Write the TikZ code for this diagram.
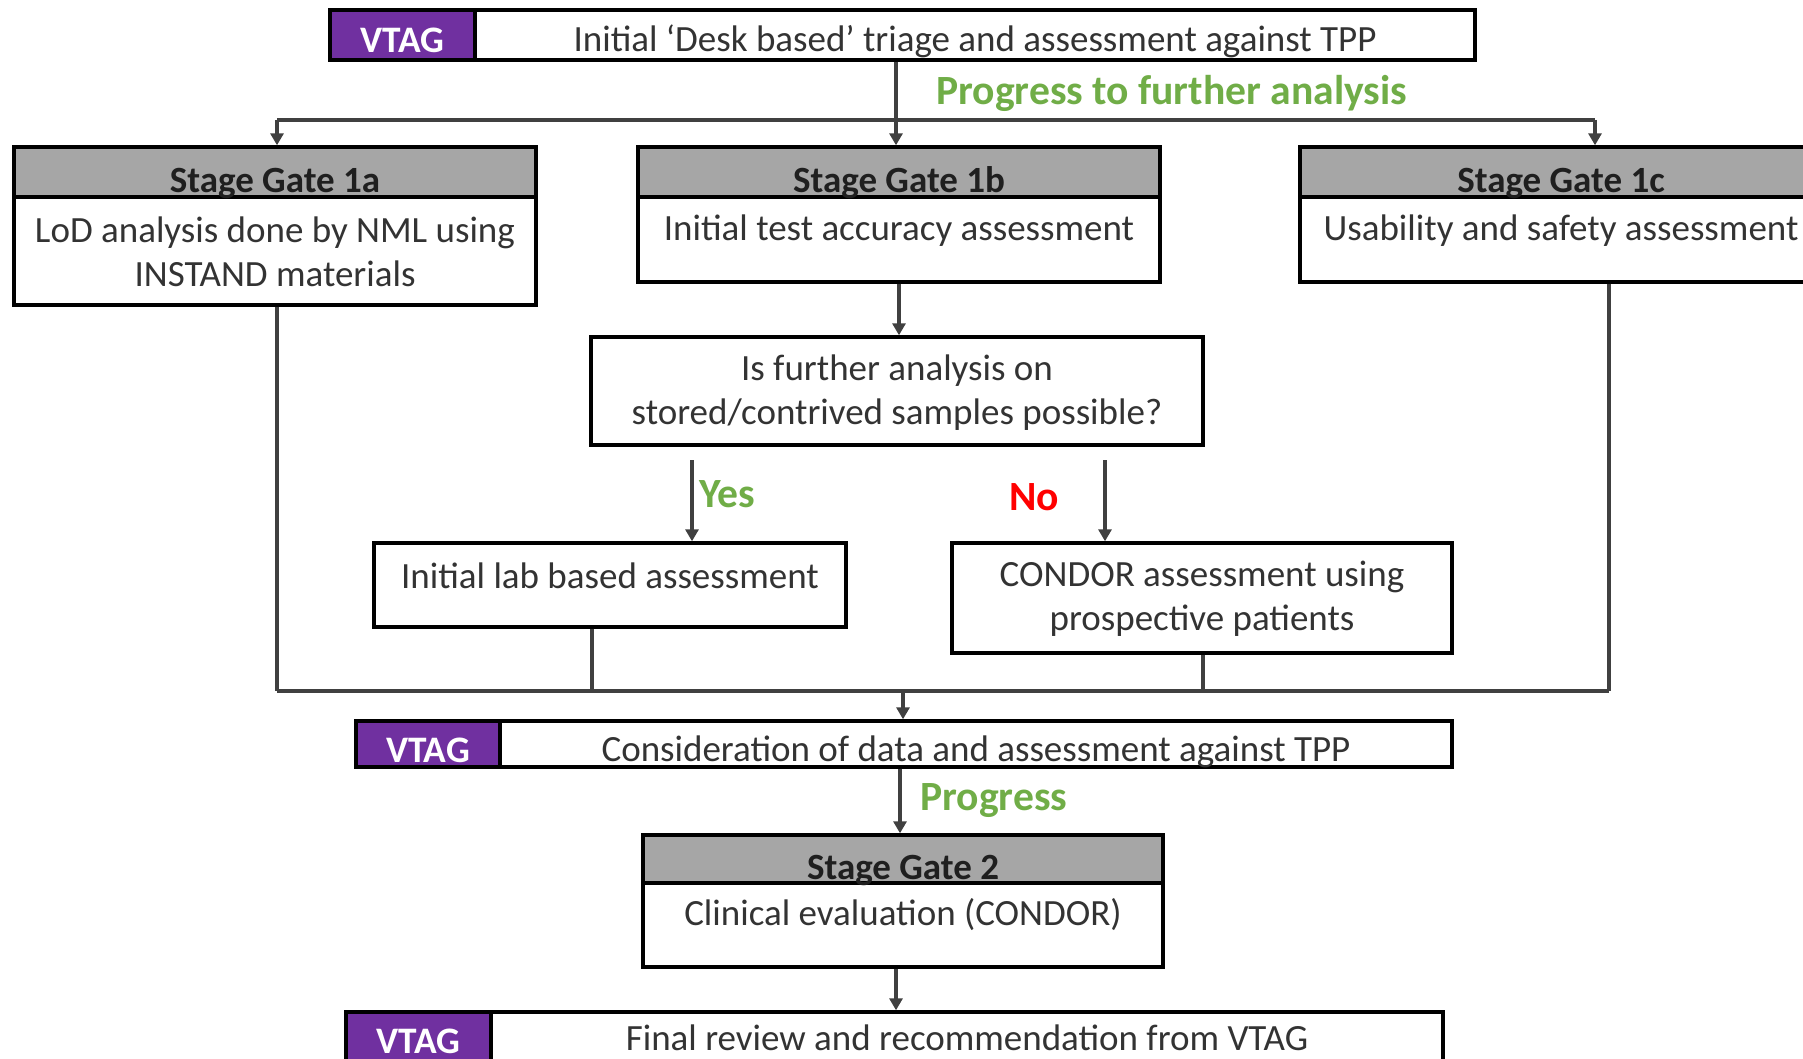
\documentclass[tikz,border=0pt]{standalone}
\usepackage{fontspec}
\setmainfont{Carlito}
\usetikzlibrary{arrows.meta}
\definecolor{vpurple}{HTML}{7030A0}
\definecolor{hgray}{HTML}{A6A6A6}
\definecolor{lgray}{HTML}{404040}
\definecolor{tgray}{HTML}{333333}
\definecolor{pgreen}{HTML}{70AD47}
\definecolor{nred}{HTML}{FF0000}
\begin{document}
\begin{tikzpicture}[x=0.5pt,y=-0.5pt,
  box/.style={draw=black, line width=1.7pt, fill=white, inner sep=0pt},
  hdr/.style={box, fill=hgray},
  vtag/.style={box, fill=vpurple},
  txt/.style={text=tgray, font=\fontsize{18.5}{22}\selectfont, align=center, inner sep=0pt},
  htxt/.style={text=black!88, font=\fontsize{18.5}{22}\selectfont\bfseries, inner sep=0pt},
  vtxt/.style={text=white, font=\fontsize{18.7}{22}\selectfont\bfseries, inner sep=0pt},
  lbl/.style={font=\fontsize{20.8}{24}\selectfont\bfseries, inner sep=0pt},
  conn/.style={draw=lgray, line width=1.8pt},
  arr/.style={conn, -{Triangle[width=6.5pt,length=6pt]}},
]
\useasboundingbox (0,0) rectangle (1803,1059);
\fill[white] (0,0) rectangle (1803,1059);

\coordinate (busL) at (277,120);
\coordinate (busR) at (1595,120);
\coordinate (bus2L) at (277,691);
\coordinate (bus2R) at (1609,691);

% ---------- VTAG 1 ----------
\node[vtag, minimum width=72.5pt, minimum height=25pt] (v1) at (402.5,35) {};
\node[box, minimum width=500pt, minimum height=25pt] (w1) at (975,35) {};
\node[vtxt] (v1t) at (402.5,40) {VTAG};
\node[txt, anchor=base] (w1t) at (975,52) {Initial ‘Desk based’ triage and assessment against TPP};

% ---------- Stage gate 1a ----------
\node[hdr, minimum width=261pt, minimum height=25pt] (h1a) at (275,172) {};
\node[box, minimum width=261pt, minimum height=54pt] (b1a) at (275,251) {};
\node[htxt, anchor=base] (h1at) at (275,193) {Stage Gate 1a};
\node[txt] (b1at) at (275,252) {LoD analysis done by NML using\\INSTAND materials};

% ---------- Stage gate 1b ----------
\node[hdr, minimum width=261pt, minimum height=25pt] (h1b) at (899,172) {};
\node[box, minimum width=261pt, minimum height=42.5pt] (b1b) at (899,239.5) {};
\node[htxt, anchor=base] (h1bt) at (899,193) {Stage Gate 1b};
\node[txt] (b1bt) at (899,231) {Initial test accuracy assessment};

% ---------- Stage gate 1c ----------
\node[hdr, minimum width=261pt, minimum height=25pt] (h1c) at (1561,172) {};
\node[box, minimum width=261pt, minimum height=42.5pt] (b1c) at (1561,239.5) {};
\node[htxt, anchor=base] (h1ct) at (1561,193) {Stage Gate 1c};
\node[txt] (b1ct) at (1561,231) {Usability and safety assessment};

% ---------- question ----------
\node[box, minimum width=306pt, minimum height=54pt] (q) at (897,391) {};
\node[txt] (qt) at (897,393) {Is further analysis on\\stored/contrived samples possible?};

% ---------- lab / CONDOR ----------
\node[box, minimum width=236pt, minimum height=42pt] (lab) at (610,585) {};
\node[txt] (labt) at (610,576) {Initial lab based assessment};
\node[box, minimum width=250pt, minimum height=55pt] (con) at (1202,598) {};
\node[txt] (cont) at (1202,599) {CONDOR assessment using\\prospective patients};

% ---------- VTAG 2 ----------
\node[vtag, minimum width=72pt, minimum height=23pt] (v2) at (428,744) {};
\node[box, minimum width=476pt, minimum height=23pt] (w2) at (976,744) {};
\node[vtxt] (v2t) at (428,750) {VTAG};
\node[txt, anchor=base] (w2t) at (976,761) {Consideration of data and assessment against TPP};

% ---------- Stage gate 2 ----------
\node[hdr, minimum width=260pt, minimum height=24pt] (h2) at (903,859) {};
\node[box, minimum width=260pt, minimum height=42pt] (b2) at (903,925) {};
\node[htxt, anchor=base] (h2t) at (903,879) {Stage Gate 2};
\node[txt] (b2t) at (903,915) {Clinical evaluation (CONDOR)};

% ---------- VTAG 3 ----------
\node[vtag, minimum width=72.5pt, minimum height=26pt] (v3) at (418.5,1038) {};
\node[box, minimum width=476pt, minimum height=26pt] (w3) at (967,1038) {};
\node[vtxt] (v3t) at (418.5,1041) {VTAG};
\node[txt, anchor=base] (w3t) at (967,1050) {Final review and recommendation from VTAG};

% ---------- labels ----------
\node[lbl, text=pgreen, anchor=west] (prog1) at (936,93) {Progress to further analysis};
\node[lbl, text=pgreen, anchor=west] (prog2) at (920,801) {Progress};
\node[lbl, text=pgreen, anchor=west] (yes) at (699,494) {Yes};
\node[lbl, text=nred] (no) at (1034,497) {No};

% ---------- connectors ----------
\draw[conn] (w1.south -| 896,0) -- (896,120);
\draw[conn] (busL) -- (busR);
\draw[arr] (busL) -- (h1a.north -| busL);
\draw[arr] (896,120) -- (h1b.north -| 896,0);
\draw[arr] (busR) -- (h1c.north -| busR);
\draw[arr] (b1b.south) -- (q.north -| b1b.south);
\coordinate (yesS) at (692,460);
\coordinate (noS) at (1105,460);
\draw[arr] (yesS) -- (lab.north -| yesS);
\draw[arr] (noS) -- (con.north -| noS);
\draw[conn] (b1a.south -| busL) -- (bus2L);
\draw[conn] (lab.south -| 592,0) -- (592,691);
\draw[conn] (con.south -| 1203,0) -- (1203,691);
\draw[conn] (b1c.south -| bus2R) -- (bus2R);
\draw[conn] (bus2L) -- (bus2R);
\draw[arr] (903,691) -- (w2.north -| 903,0);
\draw[arr] (w2.south -| 900,0) -- (h2.north -| 900,0);
\draw[arr] (b2.south -| 896,0) -- (w3.north -| 896,0);
\end{tikzpicture}
\end{document}
